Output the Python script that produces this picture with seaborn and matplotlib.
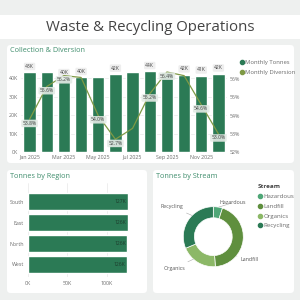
import numpy as np
import pandas as pd
import seaborn as sns
import matplotlib.pyplot as plt
from matplotlib.patches import FancyBboxPatch
from matplotlib.lines import Line2D

# data (tonnes in thousands)
months = ['Jan 2025', 'Feb 2025', 'Mar 2025', 'Apr 2025', 'May 2025', 'Jun 2025',
          'Jul 2025', 'Aug 2025', 'Sep 2025', 'Oct 2025', 'Nov 2025', 'Dec 2025']
monthly_tonnes = [43.1, 43.1, 39.8, 40.4, 40.6, 42.2, 43.4, 43.6, 43.2, 41.8, 41.2, 42.3]
monthly_diversion = [53.8, 55.6, 56.2, 56.1, 54.0, 52.7, 53.3, 55.2, 56.4, 56.2, 54.6, 53.0]
regions = ['South', 'East', 'North', 'West']
region_tonnes = [127.0, 126.3, 125.9, 125.6]
streams = ['Hazardous', 'Landfill', 'Organics', 'Recycling']
stream_tonnes = [25, 222, 100, 158]

# which points carry a data label in the original
bar_label_idx = [0, 2, 3, 5, 7, 9, 10, 11]
line_label_idx = [0, 1, 2, 4, 5, 7, 8, 10, 11]

GREEN = '#2b7a55'
OLIVE = '#7f9a45'
stream_colors = ['#4fa777', '#5f8f3e', '#8cb867', '#2b7a55']
BG = '#eef0ef'
TITLE_C = '#3f8d6c'
TICK_C = '#6a6a6a'

sns.set_theme(style='white')
plt.rcParams['font.family'] = ['Open Sans', 'DejaVu Sans']

fig = plt.figure(figsize=(3, 3), dpi=100, facecolor=BG)


def rect(x0, y0, x1, y1):
    return [x0 / 300, 1 - y1 / 300, (x1 - x0) / 300, (y1 - y0) / 300]


def panel(x0, y0, x1, y1, rounding=0.012):
    r = rect(x0, y0, x1, y1)
    fig.patches.append(FancyBboxPatch((r[0], r[1]), r[2], r[3],
                                      boxstyle=f'round,pad=0,rounding_size={rounding}',
                                      transform=fig.transFigure, fc='white', ec='none',
                                      zorder=-10))


# background panels
fig.patches.append(FancyBboxPatch((0, 1 - 39 / 300), 1, 24 / 300, boxstyle='square,pad=0',
                                  transform=fig.transFigure, fc='white', ec='none',
                                  zorder=-10))
panel(7, 45, 294, 163)
panel(7, 170, 147, 293)
panel(153, 170, 294, 293)

fig.text(0.5, 1 - 27.5 / 300, 'Waste & Recycling Operations', ha='center', va='center',
         fontsize=10.8, color='#444444')
fig.text(10 / 300, 1 - 51 / 300, 'Collection & Diversion', ha='left', va='center',
         fontsize=5.2, color=TITLE_C)
fig.text(10 / 300, 1 - 176 / 300, 'Tonnes by Region', ha='left', va='center',
         fontsize=5.2, color=TITLE_C)
fig.text(156 / 300, 1 - 176 / 300, 'Tonnes by Stream', ha='left', va='center',
         fontsize=5.2, color=TITLE_C)

# ---- Collection & Diversion ----
df = pd.DataFrame({'month': months, 'tonnes': monthly_tonnes,
                   'diversion': monthly_diversion, 'pos': np.arange(len(months))})
ax = fig.add_axes(rect(21, 64, 227, 152))
ax.set_facecolor('none')
sns.barplot(data=df, x='month', y='tonnes', color=GREEN, saturation=1, width=0.72, ax=ax)
ax.set_ylim(0, 47.6)
ax.set_yticks([0, 10, 20, 30, 40])
ax.set_yticklabels([f'{v}K' for v in [0, 10, 20, 30, 40]])
ax.set_xticks(range(0, 12, 2))
ax.set_xticklabels(months[::2])
ax.yaxis.grid(True, color='#e8e8e8', lw=0.5)
ax.set_axisbelow(True)
ax.set_xlabel('')
ax.set_ylabel('')
ax.tick_params(labelsize=3.8, colors=TICK_C, length=0, pad=2)
for s in ax.spines.values():
    s.set_visible(False)
for i in bar_label_idx:
    v = monthly_tonnes[i]
    ax.annotate(f'{round(v)}K', (i, v), xytext=(0, 4.2), textcoords='offset points',
                ha='center', va='center', fontsize=3.6, color='#444444',
                bbox=dict(boxstyle='round,pad=0.25', fc='#eeeeee', ec='none'))

ax2 = ax.twinx()
sns.lineplot(data=df, x='pos', y='diversion', color=OLIVE, lw=0.9, ax=ax2)
ax2.set_ylim(52, 56.84)
ax2.set_yticks([52, 53, 54, 55, 56])
ax2.set_yticklabels([f'{v}%' for v in [52, 53, 54, 55, 56]])
ax2.set_xlabel('')
ax2.set_ylabel('')
ax2.tick_params(labelsize=3.8, colors=TICK_C, length=0, pad=2)
for s in ax2.spines.values():
    s.set_visible(False)
for i in line_label_idx:
    v = monthly_diversion[i]
    ax2.annotate(f'{v:.1f}%', (i, v), xytext=(0, -3), textcoords='offset points',
                 ha='center', va='center', fontsize=3.6, color='#444444',
                 bbox=dict(boxstyle='round,pad=0.25', fc='#e4ebe6', ec='none', alpha=0.9))
ax.set_xlim(-0.5, 11.5)

handles = [Line2D([], [], marker='o', ls='none', color=GREEN, markersize=3),
           Line2D([], [], marker='o', ls='none', color=OLIVE, markersize=3)]
fig.legend(handles, ['Monthly Tonnes', 'Monthly Diversion'], loc='upper left',
           bbox_to_anchor=(237 / 300, 1 - 57 / 300), frameon=False, fontsize=4.2,
           handlelength=0.6, handletextpad=0.3, labelspacing=0.9, borderpad=0,
           labelcolor=TICK_C)

# ---- Tonnes by Region ----
axr = fig.add_axes(rect(28, 183, 137, 277))
axr.set_facecolor('none')
sns.barplot(x=region_tonnes, y=regions, orient='h', color=GREEN, saturation=1,
            width=0.8, ax=axr)
axr.set_xlim(0, 138)
axr.set_ylim(3.6, -0.9)
axr.set_xticks([0, 50, 100])
axr.set_xticklabels(['0K', '50K', '100K'])
axr.xaxis.grid(True, color='#e8e8e8', lw=0.5)
axr.set_axisbelow(True)
axr.tick_params(labelsize=3.8, colors=TICK_C, length=0, pad=3)
for s in axr.spines.values():
    s.set_visible(False)
for i, v in enumerate(region_tonnes):
    axr.text(v - 2, i, f'{round(v)}K', ha='right', va='center', fontsize=3.6,
             color='#1d3b2c')

# ---- Tonnes by Stream ----
axp = fig.add_axes(rect(173.3, 196.7, 253.3, 276.7))
wedges, _ = axp.pie(stream_tonnes, colors=stream_colors, startangle=90, counterclock=False,
                    wedgeprops=dict(width=0.37, edgecolor='white', linewidth=0.5))
axp.set_xlim(-1.333, 1.333)
axp.set_ylim(-1.333, 1.333)
axp.set_aspect('equal')

label_xy = {'Hazardous': (0.2, 1.13, 'left'), 'Landfill': (0.9, -0.75, 'left'),
            'Organics': (-0.93, -1.05, 'right'), 'Recycling': (-1.0, 1.0, 'right')}
for name in streams:
    tx, ty, ha = label_xy[name]
    d = np.hypot(tx, ty)
    px, py = tx / d * 1.0, ty / d * 1.0
    axp.annotate(name, xy=(px, py), xytext=(tx, ty), ha=ha, va='center', fontsize=3.8,
                 color='#555555', annotation_clip=False,
                 arrowprops=dict(arrowstyle='-', color='#aaaaaa', lw=0.4,
                                 shrinkA=1, shrinkB=0))

shandles = [Line2D([], [], marker='o', ls='none', color=c, markersize=3) for c in stream_colors]
leg = fig.legend(shandles, streams, title='Stream', loc='upper left',
                 bbox_to_anchor=(255 / 300, 1 - 181 / 300), frameon=False, fontsize=4.4,
                 title_fontsize=4.6, handlelength=0.6, handletextpad=0.3, labelspacing=0.75,
                 borderpad=0, labelcolor=TICK_C)
leg.get_title().set_fontweight('bold')
leg.get_title().set_color('#444444')
leg._legend_box.align = 'left'

fig.savefig('out.png', dpi=100, facecolor=BG)
